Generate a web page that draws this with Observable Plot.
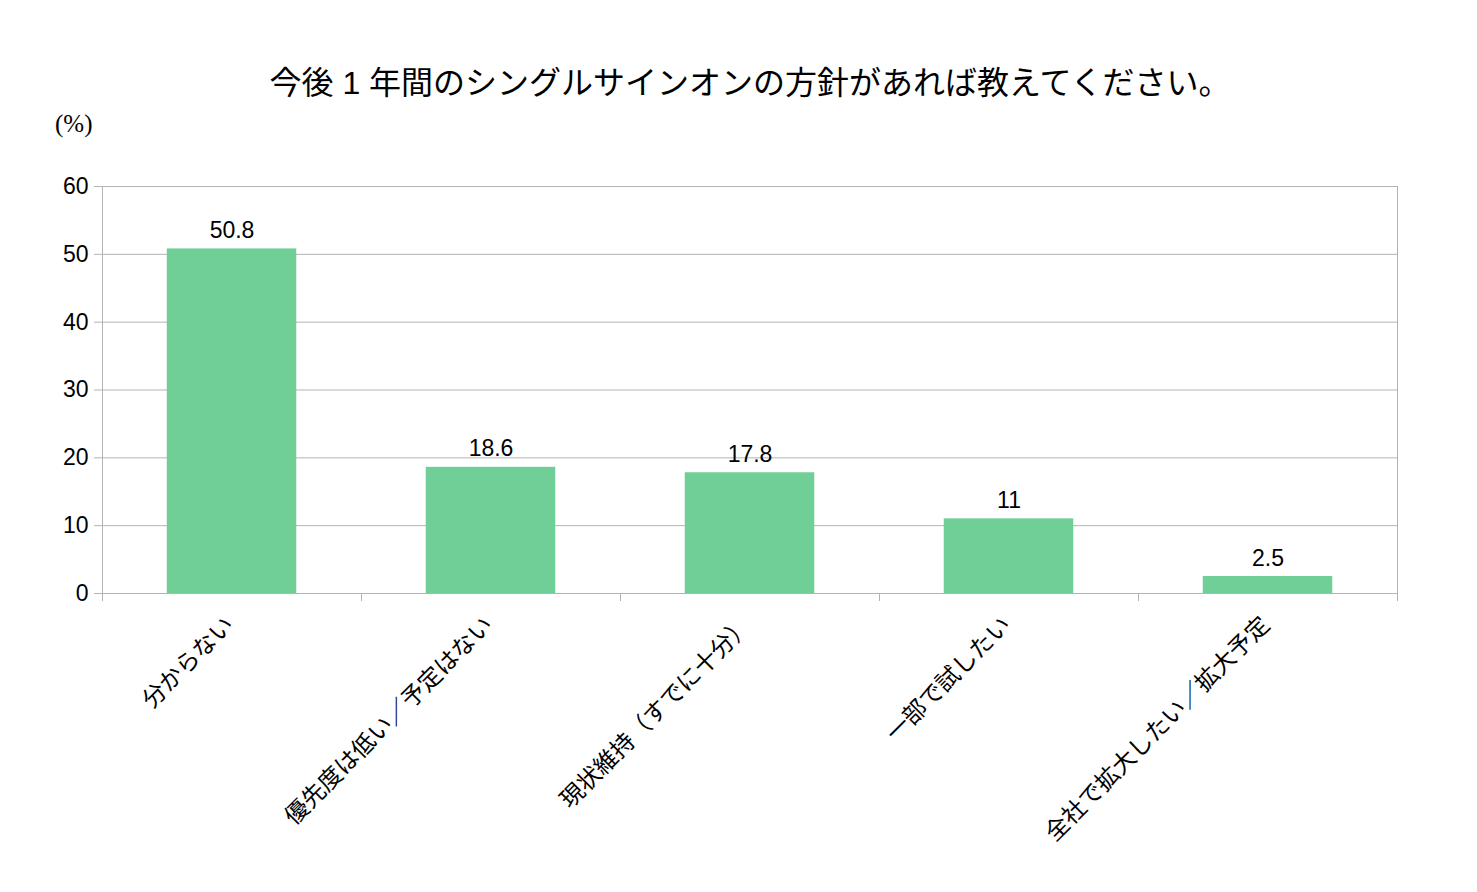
<!DOCTYPE html>
<html>
<head>
<meta charset="utf-8">
<script src="https://cdn.jsdelivr.net/npm/d3@7"></script>
<script src="https://cdn.jsdelivr.net/npm/@observablehq/plot@0.6"></script>
<style>
  html, body { margin: 0; padding: 0; background: #fff; }
  #wrap { position: relative; width: 1477px; height: 892px; overflow: hidden; }
  #title { position: absolute; left: 0; top: 57px; width: 1500px; text-align: center;
           font-family: "Liberation Sans", "Noto Sans CJK JP", sans-serif; font-size: 32px; color: #000; white-space: nowrap; }
  #unit { position: absolute; left: 55px; top: 110px; font-family: "Liberation Serif", serif; font-size: 25px; color: #000; }
  #chart { position: absolute; left: 0; top: 0; }
</style>
</head>
<body>
<div id="wrap">
  <div id="chart"></div>
  <div id="title"></div>
  <div id="unit"></div>
</div>
<script>
const titleText = "今後 1 年間のシングルサインオンの方針があれば教えてください。";
const unitText = "(%)";
const categories = ["分からない", "優先度は低い／予定はない", "現状維持（すでに十分）", "一部で試したい", "全社で拡大したい／拡大予定"];
const values = [50.8, 18.6, 17.8, 11, 2.5];
const yTicks = [0, 10, 20, 30, 40, 50, 60];

document.getElementById("title").textContent = titleText;
document.getElementById("unit").textContent = unitText;

const data = categories.map((c, i) => ({category: c, value: values[i], i}));
const boundaries = d3.range(categories.length + 1);
const gray = "#b3b3b3";
const font = '"Liberation Sans", "Noto Sans CJK JP", sans-serif';
const cjkFont = '"Noto Sans CJK JP", sans-serif';

const chart = Plot.plot({
  width: 1477,
  height: 892,
  marginLeft: 102,
  marginRight: 80,
  marginTop: 186,
  marginBottom: 299,
  style: {fontFamily: font, fontSize: "23px", color: "#000", background: "#fff"},
  x: {type: "linear", domain: [0, categories.length], axis: null},
  y: {domain: [0, 60], axis: null},
  marks: [
    Plot.gridY(yTicks, {stroke: gray, strokeOpacity: 1, strokeWidth: 1}),
    Plot.frame({stroke: gray, strokeWidth: 1}),
    Plot.axisY(yTicks, {tickSize: 8, tickPadding: 6, stroke: gray, fontSize: 23, fill: "#000", label: null, tickFormat: d => String(d)}),
    Plot.axisX(boundaries, {tickSize: 8, stroke: gray, tickFormat: () => "", label: null}),
    Plot.rectY(data, {x1: d => d.i + 0.25, x2: d => d.i + 0.75, y1: 0, y2: "value", fill: "#70ce97"}),
    Plot.text(data, {x: d => d.i + 0.5, y: "value", text: d => String(d.value), lineAnchor: "bottom", dy: -11, fontSize: 23, fill: "#000"}),
    Plot.text(data, {x: d => d.i + 0.5, frameAnchor: "bottom", text: "category", rotate: -45, textAnchor: "end", lineAnchor: "bottom", dx: 3, dy: 33, fontSize: 23.5, fontFamily: cjkFont, fill: "#000"})
  ]
});
document.getElementById("chart").appendChild(chart);
</script>
</body>
</html>
